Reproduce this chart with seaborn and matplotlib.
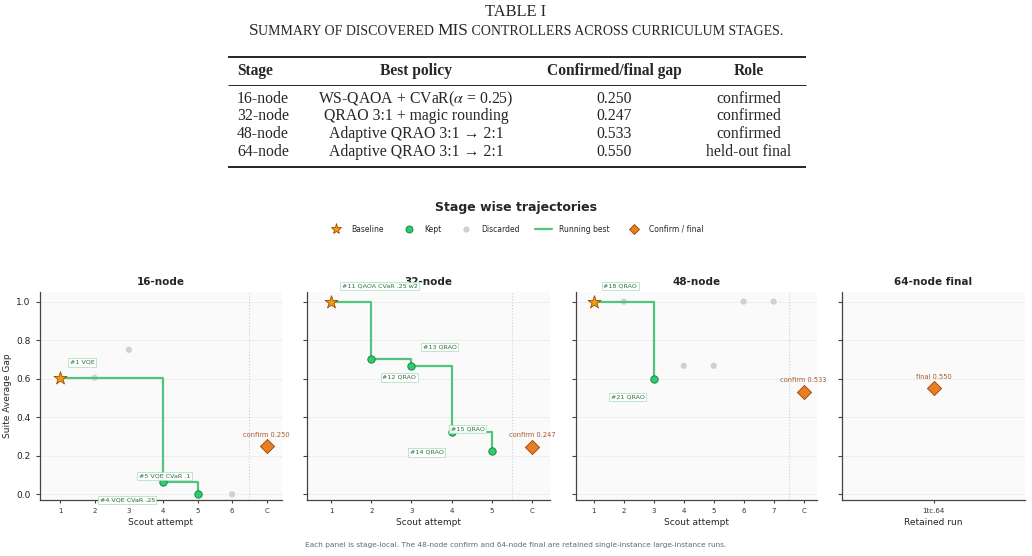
import matplotlib
matplotlib.use('Agg')
import matplotlib.pyplot as plt
from matplotlib.lines import Line2D
import seaborn as sns
import numpy as np
import pandas as pd

##################################################################################
# Data
##################################################################################
# summary table
tab_head = ['Stage', 'Best policy', 'Confirmed/final gap', 'Role']
tab_stage = ['16-node', '32-node', '48-node', '64-node']
tab_policy = [r'WS-QAOA + CVaR($\alpha$ = 0.25)', 'QRAO 3:1 + magic rounding',
              'Adaptive QRAO 3:1 \u2192 2:1', 'Adaptive QRAO 3:1 \u2192 2:1']
tab_gap = [0.250, 0.247, 0.533, 0.550]
tab_role = ['confirmed', 'confirmed', 'confirmed', 'held-out final']

# 16-node scout trajectory
s16_attempt = [1, 2, 3, 4, 5, 6]
s16_gap = [0.605, 0.605, 0.75, 0.062, 0.0, 0.0]
s16_status = ['baseline', 'discarded', 'discarded', 'kept', 'kept', 'discarded']
s16_label = ['#1 VQE', '', '', '#4 VQE CVaR .25', '#5 VQE CVaR .1', '']
s16_confirm = 0.250

# 32-node scout trajectory
s32_attempt = [1, 2, 3, 4, 5]
s32_gap = [1.0, 0.70, 0.667, 0.325, 0.224]
s32_status = ['baseline', 'kept', 'kept', 'kept', 'kept']
s32_label = ['#11 QAOA CVaR .25 w2', '#12 QRAO', '#13 QRAO', '#14 QRAO', '#15 QRAO']
s32_confirm = 0.247

# 48-node scout trajectory
s48_attempt = [1, 2, 3, 4, 5, 6, 7]
s48_gap = [1.0, 1.0, 0.60, 0.667, 0.667, 1.0, 1.0]
s48_status = ['baseline', 'discarded', 'kept', 'discarded', 'discarded',
              'discarded', 'discarded']
s48_label = ['#18 QRAO', '', '#21 QRAO', '', '', '', '']
s48_confirm = 0.533

# 64-node held-out final
final_run = ['1tc.64']
final_gap = [0.550]

##################################################################################
# Style
##################################################################################
sns.set_style('ticks')
plt.rcParams['font.family'] = ['DejaVu Sans']
plt.rcParams['mathtext.fontset'] = 'stix'

C_BASE = '#f39c12'
C_BASE_EDGE = '#9c4a00'
C_KEPT = '#2ecc71'
C_KEPT_EDGE = '#1e8449'
C_DISC = '#cdd1d6'
C_LINE = '#52c47e'
C_CONF = '#e67e22'
C_CONF_EDGE = '#a04000'
C_CONF_TXT = '#a85a2a'
C_ANN_TXT = '#2f6e42'
C_ANN_EDGE = '#a9dfbf'
SERIF = ['Liberation Serif', 'DejaVu Serif']

# label offsets (points) for each annotated attempt
off16 = [(16, 11), None, None, (-26, -13), (-24, 13), None]
off32 = [(35, 11.5), (20, -13), (20.5, 13.4), (-18, -15), (-17.5, 15.7)]
off48 = [(19, 11.5), None, (-19, -13), None, None, None, None]

W, H = 1032, 556
fig = plt.figure(figsize=(W / 100, H / 100), dpi=100)

##################################################################################
# Table (drawn in pixel coordinates)
##################################################################################
axt = fig.add_axes([0, 0, 1, 1])
axt.set_xlim(0, W)
axt.set_ylim(H, 0)
axt.axis('off')

axt.text(516, 12, 'TABLE I', ha='center', va='center', fontsize=11.8,
         family=SERIF)

# small caps caption built from runs of large / small capitals
caption = 'Summary of discovered MIS controllers across curriculum stages.'
FS_BIG, FS_SMALL = 12.4, 10.0
runs = []
for ch in caption:
    big = ch.isupper()
    if runs and runs[-1][1] == big:
        runs[-1][0] += ch.upper()
    else:
        runs.append([ch.upper(), big])
renderer = fig.canvas.get_renderer()
bar = axt.text(0, 0, '|', fontsize=FS_BIG, family=SERIF)
wbar_big = bar.get_window_extent(renderer).width
bar.set_fontsize(FS_SMALL)
wbar_small = bar.get_window_extent(renderer).width
bar.remove()
pieces = []
total = 0
for s, big in runs:
    fs = FS_BIG if big else FS_SMALL
    t = axt.text(0, 35, s + '|', ha='left', va='baseline', fontsize=fs,
                 family=SERIF)
    w = t.get_window_extent(renderer).width - (wbar_big if big else wbar_small)
    t.set_text(s)
    pieces.append((t, w))
    total += w
x0 = 516 - total / 2
for t, w in pieces:
    t.set_x(x0)
    t.set_y(35)
    x0 += w

axt.hlines(57, 228, 806, color='black', lw=1.2)
axt.hlines(85, 228, 806, color='black', lw=0.6)
axt.hlines(167, 228, 806, color='black', lw=1.2)

col_x = [237, 416, 614, 749]
col_ha = ['left', 'center', 'center', 'center']
for cx, ha, h in zip(col_x, col_ha, tab_head):
    axt.text(cx, 71, h, ha=ha, va='center', fontsize=11.2, fontweight='bold',
             family=SERIF)
row_y = [99, 116.5, 134, 151.5]
for i, ry in enumerate(row_y):
    vals = [tab_stage[i], tab_policy[i], '%.3f' % tab_gap[i], tab_role[i]]
    for cx, ha, v in zip(col_x, col_ha, vals):
        axt.text(cx, ry, v, ha=ha, va='center', fontsize=11.3, family=SERIF)

##################################################################################
# Stage panels
##################################################################################
top, bot = 292, 500
panels = [(39.5, 282), (307, 550), (576, 817), (842, 1025)]
axes = []
for l, r in panels:
    axes.append(fig.add_axes([l / W, 1 - bot / H, (r - l) / W, (bot - top) / H]))


def style_axis(ax, title, xlabel):
    ax.set_facecolor('#fafafa')
    ax.set_ylim(-0.03, 1.05)
    ax.set_yticks([0, 0.2, 0.4, 0.6, 0.8, 1.0])
    ax.grid(axis='y', ls='--', color='#e3e3e3', lw=0.5)
    ax.set_axisbelow(True)
    for sp in ['top', 'right']:
        ax.spines[sp].set_visible(False)
    for sp in ['left', 'bottom']:
        ax.spines[sp].set_color('#444444')
        ax.spines[sp].set_linewidth(0.9)
    ax.tick_params(axis='y', labelsize=6.5, length=3, color='#444444',
                   labelcolor='#222222')
    ax.tick_params(axis='x', labelsize=5, length=2.5, color='#444444',
                   labelcolor='#333333', pad=3)
    ax.set_title(title, fontsize=7.5, fontweight='bold', pad=5)
    ax.set_xlabel(xlabel, fontsize=6.5, labelpad=3)
    ax.set_ylabel('')


def draw_stage(ax, attempt, gap, status, label, offs, confirm, title):
    df = pd.DataFrame({'attempt': attempt, 'gap': gap, 'status': status})
    n = len(attempt)
    disc = df[df['status'] == 'discarded']
    best = df[df['status'] != 'discarded']
    kept = df[df['status'] == 'kept']
    base = df[df['status'] == 'baseline']
    if not disc.empty:
        sns.scatterplot(data=disc, x='attempt', y='gap', ax=ax, color=C_DISC,
                        s=20, edgecolor='none', zorder=2, legend=False)
    sns.lineplot(data=best, x='attempt', y='gap', ax=ax, estimator=None,
                 drawstyle='steps-post', color=C_LINE, lw=1.6, zorder=3,
                 legend=False)
    sns.scatterplot(data=kept, x='attempt', y='gap', ax=ax, color=C_KEPT,
                    s=28, edgecolor=C_KEPT_EDGE, linewidth=0.7, zorder=4,
                    legend=False)
    sns.scatterplot(data=base, x='attempt', y='gap', ax=ax, marker='*',
                    color=C_BASE, s=95, edgecolor=C_BASE_EDGE, linewidth=0.6,
                    zorder=5, legend=False)
    sns.scatterplot(x=[n + 1], y=[confirm], ax=ax, marker='D', color=C_CONF,
                    s=52, edgecolor=C_CONF_EDGE, linewidth=0.6, zorder=5,
                    legend=False)
    ax.annotate('confirm %.3f' % confirm, xy=(n + 1, confirm), xytext=(0, 6),
                textcoords='offset points', ha='center', va='bottom',
                fontsize=4.8, color=C_CONF_TXT)
    for xa, ya, lab, off in zip(attempt, gap, label, offs):
        if lab:
            ax.annotate(lab, xy=(xa, ya), xytext=off, textcoords='offset points',
                        ha='center', va='center', fontsize=4.6,
                        color=C_ANN_TXT, zorder=6, annotation_clip=False,
                        bbox=dict(boxstyle='square,pad=0.25', fc='white',
                                  ec=C_ANN_EDGE, lw=0.6, alpha=0.9))
    ax.axvline(n + 0.5, color='#cfcfcf', ls=':', lw=0.8, zorder=1)
    ax.set_xlim(0.4, n + 1.45)
    ax.set_xticks(list(range(1, n + 2)))
    ax.set_xticklabels([str(a) for a in attempt] + ['C'])
    style_axis(ax, title, 'Scout attempt')


draw_stage(axes[0], s16_attempt, s16_gap, s16_status, s16_label, off16,
           s16_confirm, '16-node')
draw_stage(axes[1], s32_attempt, s32_gap, s32_status, s32_label, off32,
           s32_confirm, '32-node')
draw_stage(axes[2], s48_attempt, s48_gap, s48_status, s48_label, off48,
           s48_confirm, '48-node')

# held-out final
ax = axes[3]
sns.scatterplot(x=final_run, y=final_gap, ax=ax, marker='D', color=C_CONF,
                s=52, edgecolor=C_CONF_EDGE, linewidth=0.6, zorder=5,
                legend=False)
ax.annotate('final %.3f' % final_gap[0], xy=(0, final_gap[0]), xytext=(0, 6),
            textcoords='offset points', ha='center', va='bottom',
            fontsize=4.8, color=C_CONF_TXT)
ax.set_xlim(-1, 1)
style_axis(ax, '64-node final', 'Retained run')

axes[0].set_ylabel('Suite Average Gap', fontsize=6.5, labelpad=3)
for ax in axes[1:]:
    ax.set_yticklabels([])

##################################################################################
# Title, legend, footer
##################################################################################
fig.text(0.5, 1 - 207 / H, 'Stage wise trajectories', ha='center',
         va='center', fontsize=9, fontweight='bold')

handles = [
    Line2D([], [], ls='', marker='*', markersize=8, color=C_BASE,
           markeredgecolor=C_BASE_EDGE, markeredgewidth=0.6),
    Line2D([], [], ls='', marker='o', markersize=5, color=C_KEPT,
           markeredgecolor=C_KEPT_EDGE, markeredgewidth=0.7),
    Line2D([], [], ls='', marker='o', markersize=4.5, color=C_DISC,
           markeredgecolor='none'),
    Line2D([], [], color=C_LINE, lw=1.6),
    Line2D([], [], ls='', marker='D', markersize=5.5, color=C_CONF,
           markeredgecolor=C_CONF_EDGE, markeredgewidth=0.6),
]
labels = ['Baseline', 'Kept', 'Discarded', 'Running best', 'Confirm / final']
fig.legend(handles, labels, loc='center', bbox_to_anchor=(0.5, 1 - 229 / H),
           ncol=5, frameon=False, fontsize=5.5, columnspacing=2.1,
           handlelength=2.2, handletextpad=0.9)

fig.text(0.5, 1 - 545 / H,
         'Each panel is stage-local. The 48-node confirm and 64-node final '
         'are retained single-instance large-instance runs.',
         ha='center', va='center', fontsize=5.3, color='#5f6b7a')

plt.savefig('out.png', dpi=100)
